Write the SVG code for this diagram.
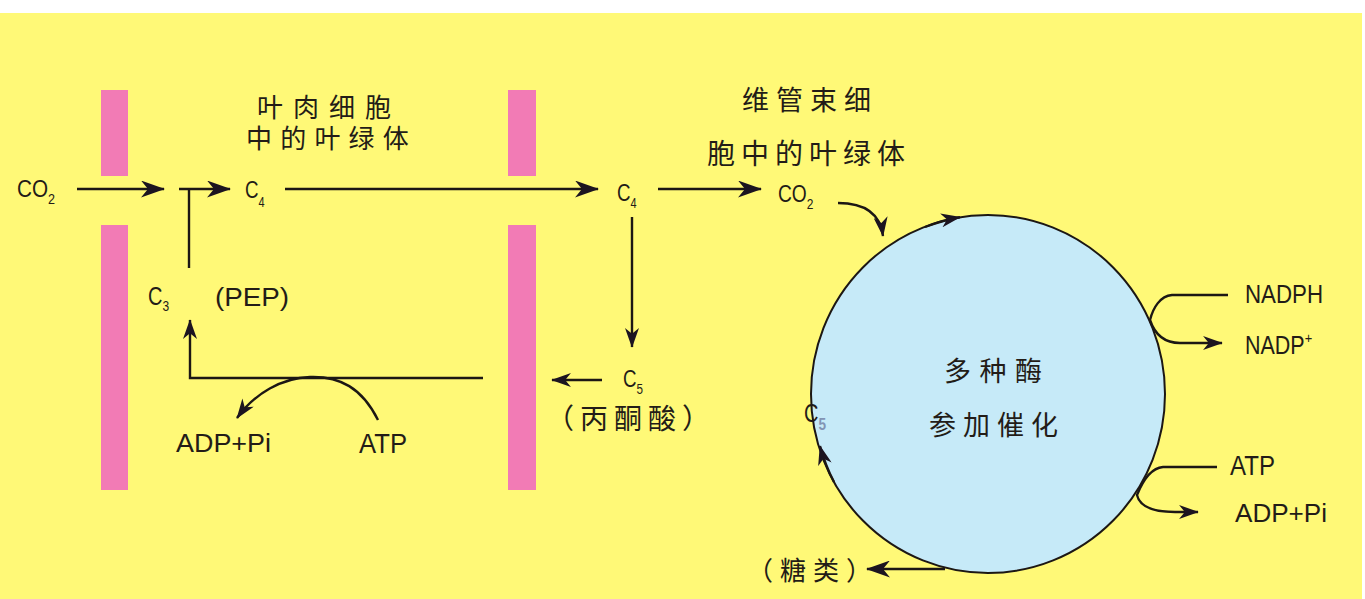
<svg xmlns="http://www.w3.org/2000/svg" width="1365" height="599" viewBox="0 0 1365 599">
<style>
.lbl{font-family:"Liberation Sans","DejaVu Sans",sans-serif;fill:#231c17;}
.cjk{font-family:"Noto Sans CJK SC","Noto Sans",sans-serif;fill:#231c17;}
.ln{fill:none;stroke:#1c1714;stroke-width:2.4;}
.bar{fill:#F27BB5;}
</style>
<defs>
<marker id="ah" viewBox="0 0 24 17" markerWidth="24" markerHeight="17" refX="23" refY="8.5" orient="auto" markerUnits="userSpaceOnUse">
<path d="M0,0 L24,8.5 L0,17 L7,8.5 Z" fill="#1c1420"/>
</marker>
<marker id="ahs" viewBox="0 0 24 17" markerWidth="20" markerHeight="14" refX="23" refY="8.5" orient="auto" markerUnits="userSpaceOnUse">
<path d="M0,0 L24,8.5 L0,17 L7,8.5 Z" fill="#1c1420"/>
</marker>
</defs>
<rect x="0" y="0" width="1365" height="599" fill="#FFFFFF"/>
<rect x="0" y="13" width="1362" height="586" fill="#FFF977"/>

<g id="membranes">
<rect class="bar" x="101" y="90" width="27" height="86"/>
<rect class="bar" x="101" y="225" width="27" height="265"/>
<rect class="bar" x="508" y="90" width="28" height="86"/>
<rect class="bar" x="508" y="225" width="28" height="265"/>
</g>

<g id="cycle">
<ellipse cx="988" cy="394" rx="177" ry="179" fill="#C6EAF8" stroke="#1c1714" stroke-width="2"/>
</g>

<g id="connectors">
<line class="ln" x1="77" y1="189" x2="164" y2="189" marker-end="url(#ah)"/>
<line class="ln" x1="179" y1="189" x2="230" y2="189" marker-end="url(#ah)"/>
<line class="ln" x1="189" y1="189" x2="189" y2="268" stroke-width="2"/>
<line class="ln" x1="285" y1="189" x2="598" y2="189" marker-end="url(#ah)"/>
<line class="ln" x1="658" y1="189" x2="761" y2="189" marker-end="url(#ah)"/>
<line class="ln" x1="632" y1="217" x2="632" y2="347" marker-end="url(#ahs)"/>
<line class="ln" x1="602" y1="380" x2="552" y2="380" marker-end="url(#ahs)"/>
<path class="ln" d="M483,378 L190,378 L190,320" marker-end="url(#ahs)"/>
<path class="ln" d="M378,420 C362,388 340,376 310,377 C282,378 255,393 237,418" marker-end="url(#ahs)"/>
<path class="ln" d="M838,203 C862,203 880,212 883,236" marker-end="url(#ahs)"/>
<path class="ln" d="M925,227 A177,179 0 0 1 960,217.2" marker-end="url(#ahs)"/>
<path class="ln" d="M834,482 A177,179 0 0 1 820,446" marker-end="url(#ahs)"/>
<line class="ln" x1="945" y1="569" x2="867" y2="569" marker-end="url(#ah)"/>
<path class="ln" d="M1228,295 L1172,295 C1160,296 1153,308 1150,320 C1155,335 1165,343 1180,343 L1222,343" marker-end="url(#ahs)"/>
<path class="ln" d="M1217,467 L1163,467 C1152,468 1143,480 1137,495 C1140,508 1155,512 1175,512 L1198,512" marker-end="url(#ahs)"/>
</g>

<g id="co2-in">
<text class="lbl" transform="translate(17,197) scale(0.9,1)" font-size="23">CO<tspan font-size="14" dy="7">2</tspan></text>
</g>
<g id="c4-meso">
<text class="lbl" transform="translate(245,198) scale(0.78,1)" font-size="24">C<tspan font-size="14" dy="9">4</tspan></text>
</g>
<g id="c4-bundle">
<text class="lbl" transform="translate(617,201) scale(0.78,1)" font-size="24">C<tspan font-size="14" dy="7">4</tspan></text>
</g>
<g id="co2-bundle">
<text class="lbl" transform="translate(778,202) scale(0.8,1)" font-size="24">CO<tspan font-size="15" dy="7">2</tspan></text>
</g>
<g id="c3">
<text class="lbl" transform="translate(148,305) scale(0.8,1)" font-size="25">C<tspan font-size="15" dy="6">3</tspan></text>
</g>
<g id="pep">
<text class="lbl" x="215" y="306" font-size="26" textLength="74" lengthAdjust="spacingAndGlyphs">(PEP)</text>
</g>
<g id="adp-left">
<text class="lbl" x="176" y="452" font-size="26" textLength="95" lengthAdjust="spacingAndGlyphs">ADP+Pi</text>
</g>
<g id="atp-left">
<text class="lbl" x="359" y="453" font-size="27" textLength="48" lengthAdjust="spacingAndGlyphs">ATP</text>
</g>
<g id="c5-pyruvate">
<text class="lbl" transform="translate(623,387) scale(0.78,1)" font-size="24">C<tspan font-size="15" dy="7">5</tspan></text>
<text class="cjk" x="546" y="429" font-size="28" letter-spacing="6">（丙酮酸）</text>
</g>
<g id="title-mesophyll">
<text class="cjk" font-size="26"><tspan x="257" y="117" letter-spacing="10">叶肉细胞</tspan><tspan x="246" y="148" letter-spacing="8.2">中的叶绿体</tspan></text>
</g>
<g id="title-bundle">
<text class="cjk" x="742" y="110" font-size="27" textLength="129" lengthAdjust="spacing">维管束细</text>
<text class="cjk" x="707" y="164" font-size="28" textLength="198" lengthAdjust="spacing">胞中的叶绿体</text>
</g>
<g id="enzymes">
<text class="cjk" x="944" y="381" font-size="27" textLength="98" lengthAdjust="spacing">多种酶</text>
<text class="cjk" x="929" y="435" font-size="27" textLength="129" lengthAdjust="spacing">参加催化</text>
</g>
<g id="c5-cycle">
<text class="lbl" transform="translate(804,422) scale(0.8,1)" font-size="25">C<tspan font-size="17" font-weight="bold" dy="8" style="fill:#8294B4">5</tspan></text>
</g>
<g id="sugar">
<text class="cjk" x="747" y="580" font-size="26" letter-spacing="7">（糖类）</text>
</g>
<g id="nadph">
<text class="lbl" x="1245" y="303" font-size="25" textLength="78" lengthAdjust="spacingAndGlyphs">NADPH</text>
</g>
<g id="nadp">
<text class="lbl" transform="translate(1245,354) scale(0.86,1)" font-size="25">NADP<tspan font-size="15" dy="-11">+</tspan></text>
</g>
<g id="atp-right">
<text class="lbl" x="1230" y="475" font-size="27" textLength="45" lengthAdjust="spacingAndGlyphs">ATP</text>
</g>
<g id="adp-right">
<text class="lbl" x="1235" y="522" font-size="26" textLength="92" lengthAdjust="spacingAndGlyphs">ADP+Pi</text>
</g>
</svg>
